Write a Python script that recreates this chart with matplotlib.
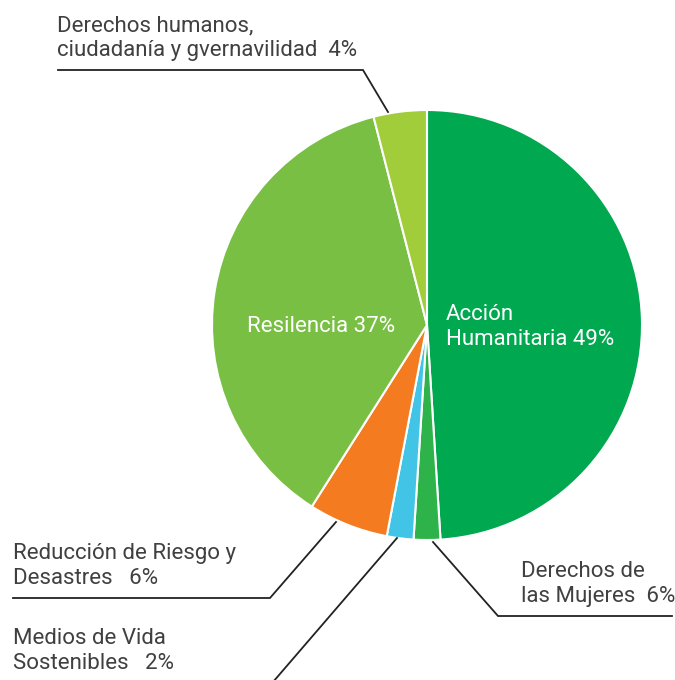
import matplotlib.pyplot as plt

# data (clockwise from top)
names = ['Acción\nHumanitaria 49%', 'Derechos de\nlas Mujeres  6%', 'Medios de Vida\nSostenibles   2%',
         'Reducción de Riesgo y\nDesastres   6%', 'Resilencia 37%', 'Derechos humanos,\nciudadanía y gvernavilidad  4%']
values = [49, 2, 2, 6, 37, 4]
colors = ['#00a84f', '#2db34a', '#41c4e6', '#f47b20', '#78bf44', '#a2cd3a']

W, H = 675, 680
font = 'Roboto'
fsize = 16
txt_col = '#404040'

fig = plt.figure(figsize=(W / 100, H / 100), dpi=100)
ax = fig.add_axes([0, 0, 1, 1])


def fy(y):
    # pixel row (from top) -> data y
    return H - y


ax.pie(values, colors=colors, startangle=90, counterclock=False,
       center=(427, fy(325)), radius=215, frame=True,
       wedgeprops=dict(edgecolor='white', linewidth=1.5))
ax.set_xlim(0, W)
ax.set_ylim(0, H)
ax.axis('off')

# labels inside the pie
ax.text(446, fy(327), names[0], color='white', fontsize=fsize, family=font,
        va='center', ha='left', linespacing=1.2)
ax.text(247, fy(326), names[4], color='white', fontsize=fsize, family=font,
        va='center', ha='left')

# outside labels with leader lines
outside = [
    (57, 38, 5, [(58, 70), (363, 70), (388, 112)]),
    (521, 584, 1, [(433, 542), (498, 616), (672, 616)]),
    (13, 566, 3, [(336, 522), (270, 598), (13, 598)]),
    (13, 651, 2, [(397, 538), (273, 682)]),
]
for tx, ty, i, pts in outside:
    ax.text(tx, fy(ty), names[i], color=txt_col, fontsize=fsize, family=font,
            va='center', ha='left', linespacing=1.2)
    ax.plot([p[0] for p in pts], [fy(p[1]) for p in pts], color='#222222', lw=1.3,
            solid_joinstyle='miter', clip_on=False)

fig.savefig('out.png', dpi=100)
